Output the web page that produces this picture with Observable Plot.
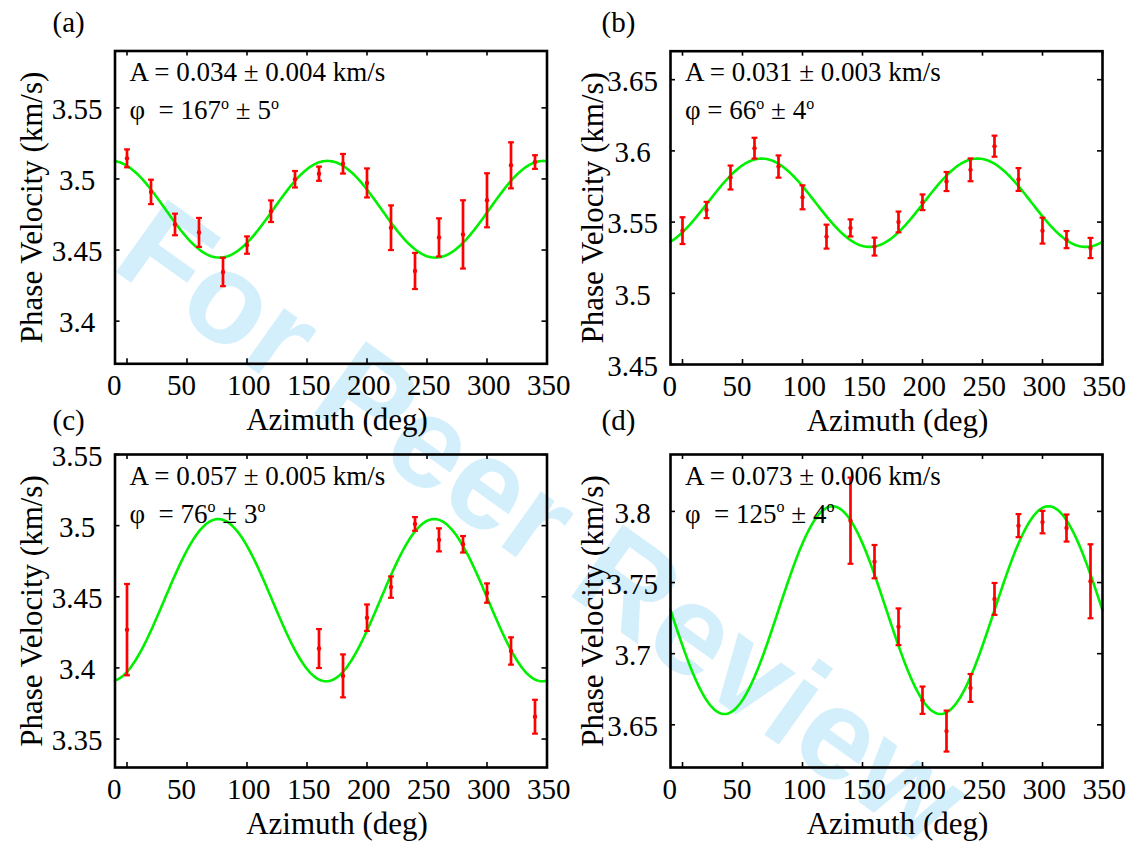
<!DOCTYPE html>
<html>
<head>
<meta charset="utf-8">
<script src="https://cdn.jsdelivr.net/npm/d3@7"></script>
<script src="https://cdn.jsdelivr.net/npm/@observablehq/plot@0.6"></script>
<style>
  html, body { margin: 0; padding: 0; background: #fff; }
  #wrap { position: relative; width: 1129px; height: 846px; overflow: hidden; background: #fff; }
  .pane { position: absolute; }
  #wm { position: absolute; left: 0; top: 0; }
  .pane svg text, .pane svg tspan {
    font-family: "Liberation Serif", "Times New Roman", Times, FreeSerif, Tinos, "Noto Serif", "DejaVu Serif", serif;
  }
</style>
</head>
<body>
<div id="wrap">
  <svg id="wm" width="1129" height="846">
    <text x="109" y="267" transform="rotate(35.5 109 267)" font-family="Liberation Sans" font-weight="bold" font-size="129" fill="#d4effc">For Peer Review</text>
  </svg>
</div>
<script>
// ---------- data ----------
const xTicks = [0, 50, 100, 150, 200, 250, 300, 350];

// (a)
const azA = [0, 20, 40, 60, 80, 100, 120, 140, 160, 180, 200, 220, 240, 260, 280, 300, 320, 340];
const velA = [3.5145, 3.4909, 3.468, 3.4624, 3.4346, 3.4535, 3.4773, 3.4998, 3.5037, 3.5107, 3.4972, 3.4657, 3.4353, 3.4589, 3.461, 3.485, 3.5096, 3.5119];
const errA = [0.0063, 0.0086, 0.0076, 0.0102, 0.010, 0.0061, 0.0076, 0.0058, 0.005, 0.0069, 0.0102, 0.0157, 0.0127, 0.0134, 0.024, 0.019, 0.0162, 0.0048];
const yTicksA = [3.4, 3.45, 3.5, 3.55];
const fitA = {mean: 3.4787, amp: 0.034, phase: 167};

// (b)
const azB = [0, 20, 40, 60, 80, 100, 120, 140, 160, 180, 200, 220, 240, 260, 280, 300, 320, 340];
const velB = [3.544, 3.5585, 3.5813, 3.6019, 3.589, 3.5674, 3.5398, 3.5459, 3.5328, 3.5501, 3.5639, 3.5785, 3.5867, 3.6033, 3.5799, 3.544, 3.5377, 3.5318];
const errB = [0.0094, 0.0057, 0.0084, 0.0073, 0.0078, 0.0084, 0.0084, 0.006, 0.0063, 0.0073, 0.0055, 0.0067, 0.008, 0.0074, 0.008, 0.0091, 0.006, 0.0071];
const yTicksB = [3.45, 3.5, 3.55, 3.6, 3.65];
const fitB = {mean: 3.5636, amp: 0.031, phase: 66};

// (c)
const azC = [0, 160, 180, 200, 220, 240, 260, 280, 300, 320, 340];
const velC = [3.4269, 3.4136, 3.3944, 3.4353, 3.4568, 3.5012, 3.49, 3.4869, 3.4526, 3.4119, 3.3657];
const errC = [0.0321, 0.0137, 0.0151, 0.0093, 0.0075, 0.0048, 0.0081, 0.0058, 0.0068, 0.0096, 0.0119];
const yTicksC = [3.35, 3.4, 3.45, 3.5, 3.55];
const fitC = {mean: 3.4476, amp: 0.057, phase: 76};

// (d)
const azD = [140, 160, 180, 200, 220, 240, 260, 280, 300, 320, 340];
const velD = [3.7935, 3.7647, 3.7189, 3.6673, 3.6456, 3.6759, 3.7385, 3.79, 3.7925, 3.7883, 3.7509];
const errD = [0.0303, 0.0117, 0.0129, 0.0096, 0.0144, 0.0098, 0.0112, 0.0081, 0.0079, 0.0095, 0.026];
const yTicksD = [3.65, 3.7, 3.75, 3.8];
const fitD = {mean: 3.7306, amp: 0.073, phase: 125};

const panelLabels = ["(a)", "(b)", "(c)", "(d)"];
const ampNotes = ["A = 0.034 ± 0.004 km/s", "A = 0.031 ± 0.003 km/s", "A = 0.057 ± 0.005 km/s", "A = 0.073 ± 0.006 km/s"];
const phiNotes = [["φ  = 167", " ± 5"], ["φ = 66", " ± 4"], ["φ  = 76", " ± 3"], ["φ  = 125", " ± 4"]];
const xLabel = "Azimuth (deg)";
const yLabel = "Phase Velocity (km/s)";

// ---------- layout ----------
const SERIF = '"Liberation Serif", "Times New Roman", Times, FreeSerif, Tinos, "Noto Serif", "DejaVu Serif", serif';
const RED = "#ff0000", GREEN = "#00f000";
const thetaGrid = d3.range(-10, 350.5, 1);
const capSymbol = {draw(ctx, size) { const w = Math.sqrt(size) / 2; ctx.moveTo(-w, 0); ctx.lineTo(w, 0); }};

const panels = [
  {az: azA, vel: velA, err: errA, yTicks: yTicksA, fit: fitA, ydom: [3.37, 3.59],
   left: 0, top: 0, width: 600, height: 440, ml: 114.5, mr: 53.5, mt: 50.5, mb: 76.7,
   ylabDx: -73, xlabDx: 6, plDx: -62.5, plDy: -19},
  {az: azB, vel: velB, err: errB, yTicks: yTicksB, fit: fitB, ydom: [3.45, 3.67],
   left: 565, top: 0, width: 564, height: 440, ml: 105, mr: 27, mt: 50.7, mb: 76,
   ylabDx: -68, xlabDx: 11, plDx: -69, plDy: -19},
  {az: azC, vel: velC, err: errC, yTicks: yTicksC, fit: fitC, ydom: [3.33, 3.55],
   left: 0, top: 400, width: 600, height: 446, ml: 114.5, mr: 53.5, mt: 54, mb: 79,
   ylabDx: -73, xlabDx: 6, plDx: -62.5, plDy: -25},
  {az: azD, vel: velD, err: errD, yTicks: yTicksD, fit: fitD, ydom: [3.62, 3.84],
   left: 565, top: 400, width: 564, height: 446, ml: 105, mr: 27, mt: 54, mb: 79,
   ylabDx: -68, xlabDx: 11, plDx: -69, plDy: -25}
];

const fmtY = d => String(+d.toFixed(2));

panels.forEach((p, i) => {
  const pts = p.az.map((x, k) => ({x, v: p.vel[k], e: p.err[k]}));
  const curve = thetaGrid.map(t => ({x: t, v: p.fit.mean + p.fit.amp * Math.cos(2 * (t - p.fit.phase) * Math.PI / 180)}));
  const W = p.width - p.ml - p.mr;
  const H = p.height - p.mt - p.mb;
  const tick = 5;
  const [head, tail] = phiNotes[i];

  const svg = Plot.plot({
    width: p.width, height: p.height,
    marginLeft: p.ml, marginRight: p.mr, marginTop: p.mt, marginBottom: p.mb,
    x: {domain: [-10, 350], axis: null},
    y: {domain: p.ydom, axis: null},
    style: {background: "transparent", overflow: "visible"},
    marks: [
      Plot.tickX(xTicks, {x: d => d, insetTop: H - tick, stroke: "black", strokeWidth: 1.6}),
      Plot.tickX(xTicks, {x: d => d, insetBottom: H - tick, stroke: "black", strokeWidth: 1.6}),
      Plot.tickY(p.yTicks, {y: d => d, insetRight: W - tick, stroke: "black", strokeWidth: 1.6}),
      Plot.tickY(p.yTicks, {y: d => d, insetLeft: W - tick, stroke: "black", strokeWidth: 1.6}),
      Plot.line(curve, {x: "x", y: "v", stroke: GREEN, strokeWidth: 2.6}),
      Plot.ruleX(pts, {x: "x", y1: d => d.v - d.e, y2: d => d.v + d.e, stroke: RED, strokeWidth: 2.7}),
      Plot.dot(pts, {x: "x", y: d => d.v + d.e, symbol: capSymbol, r: 3.3, stroke: RED, strokeWidth: 2.2}),
      Plot.dot(pts, {x: "x", y: d => d.v - d.e, symbol: capSymbol, r: 3.3, stroke: RED, strokeWidth: 2.2}),
      Plot.dot(pts, {x: "x", y: "v", r: 2.2, fill: RED, stroke: null}),
      Plot.frame({stroke: "black", strokeWidth: 2.6}),
      Plot.text(xTicks, {x: d => d, text: d => String(d), frameAnchor: "bottom", dy: 11, dx: -20,
        lineAnchor: "top", textAnchor: "start", fontSize: 29, fontFamily: SERIF, fill: "black"}),
      Plot.text(p.yTicks, {y: d => d, text: fmtY, frameAnchor: "left", dx: -38, dy: 2,
        lineAnchor: "middle", textAnchor: "middle", fontSize: 29, fontFamily: SERIF, fill: "black"}),
      Plot.text([xLabel], {text: d => d, frameAnchor: "bottom", dx: p.xlabDx, dy: 66,
        lineAnchor: "bottom", textAnchor: "middle", fontSize: 31, fontFamily: SERIF, fill: "black"}),
      Plot.text([yLabel], {text: d => d, frameAnchor: "left", dx: p.ylabDx, rotate: -90,
        lineAnchor: "bottom", textAnchor: "middle", fontSize: 31, fontFamily: SERIF, fill: "black"}),
      Plot.text([ampNotes[i]], {text: d => d, frameAnchor: "top-left", dx: 14.5, dy: 30,
        lineAnchor: "bottom", textAnchor: "start", fontSize: 27, fontFamily: SERIF, fill: "black"}),
      Plot.text([head], {text: d => d, frameAnchor: "top-left", dx: 14.5, dy: 68,
        lineAnchor: "bottom", textAnchor: "start", fontSize: 27, fontFamily: SERIF, fill: "black"}),
      Plot.text([panelLabels[i]], {text: d => d, frameAnchor: "top-left", dx: p.plDx, dy: p.plDy,
        lineAnchor: "bottom", textAnchor: "start", fontSize: 29, fontFamily: SERIF, fill: "black"})
    ]
  });

  d3.select(svg).selectAll("text").filter(function() { return this.textContent === head; }).each(function() {
    const t = d3.select(this);
    t.text(null);
    t.append("tspan").text(head);
    t.append("tspan").attr("font-size", 16).attr("dy", -10.5).text("o");
    t.append("tspan").attr("dy", 10.5).text(tail);
    t.append("tspan").attr("font-size", 16).attr("dy", -10.5).text("o");
  });

  const div = document.createElement("div");
  div.className = "pane";
  div.style.left = p.left + "px";
  div.style.top = p.top + "px";
  div.appendChild(svg);
  document.getElementById("wrap").appendChild(div);
});
</script>
</body>
</html>
